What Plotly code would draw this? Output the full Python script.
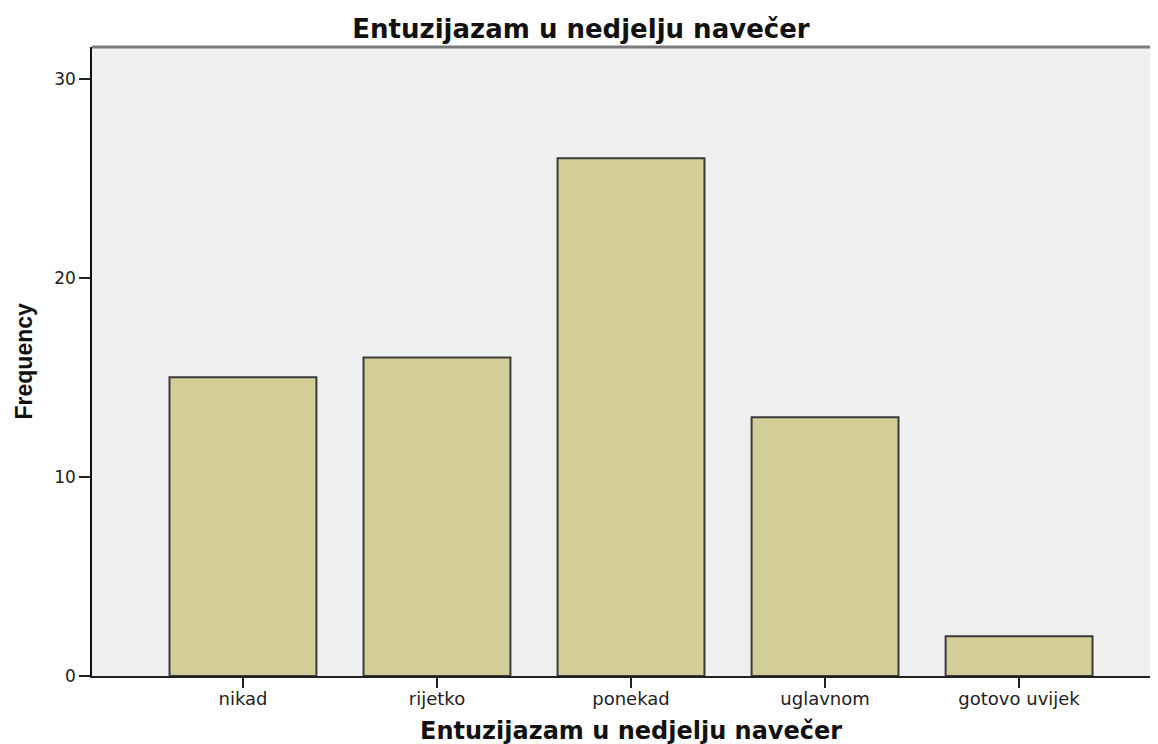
import plotly.graph_objects as go

categories = ["nikad", "rijetko", "ponekad", "uglavnom", "gotovo uvijek"]
frequency = [15, 16, 26, 13, 2]
y_ticks = [0, 10, 20, 30]
title_text = "Entuzijazam u nedjelju navečer"
x_title = "Entuzijazam u nedjelju navečer"
y_title = "Frequency"

# the page body adds an 8px offset; the figure is sized to end at the window edge
OFF = 8
W, H = 1158 - OFF, 744 - OFF
L, T = 92 - OFF, 47 - OFF
B = H - (676 - OFF)

fig = go.Figure()
fig.add_trace(go.Bar(
    x=categories,
    y=frequency,
    width=0.757,
    marker=dict(color="#D3CE98", line=dict(color="#3A3A3A", width=2)),
    hoverinfo="x+y",
))

fig.update_layout(
    width=W, height=H,
    margin=dict(l=L, r=0, t=T, b=B, pad=0),
    paper_bgcolor="white",
    plot_bgcolor="#EFEFEF",
    showlegend=False,
    title=dict(
        text=title_text,
        font=dict(family="DejaVu Sans", size=26, color="#111111", weight="bold"),
        x=(581 - OFF) / W, xref="container", xanchor="center",
        y=1 - (29 - OFF) / H, yref="container", yanchor="middle",
    ),
    xaxis=dict(
        type="category",
        range=[-0.778, 4.716],
        showgrid=False,
        showline=True, linecolor="#222222", linewidth=1.5,
        ticks="outside", ticklen=10, tickwidth=1.5, tickcolor="#222222",
        ticklabelstandoff=-4,
        tickfont=dict(family="DejaVu Sans", size=18, color="#222222"),
        zeroline=False,
    ),
    yaxis=dict(
        range=[0, 31.59],
        tickvals=y_ticks,
        showgrid=False,
        showline=True, linecolor="#111111", linewidth=1.5,
        ticks="outside", ticklen=11, tickwidth=1.5, tickcolor="#222222",
        tickfont=dict(family="DejaVu Sans", size=17, color="#222222"),
        zeroline=False,
    ),
)

plot_w = W - L
plot_h = H - T - B

# top border of the plot frame
fig.add_shape(type="line", xref="paper", yref="paper", x0=0, x1=1, y0=1, y1=1,
              line=dict(color="#7A7A7A", width=3))

# x-axis title, centred on the middle category
fig.add_annotation(
    text=x_title, xref="x", x=2, yref="paper", y=-(707 - (H - B)) / plot_h,
    xanchor="center", yanchor="top", showarrow=False,
    font=dict(family="DejaVu Sans", size=24, color="#111111", weight="bold"),
)
# y-axis title
fig.add_annotation(
    text=y_title, xref="paper", x=(15 - L) / plot_w, yref="paper", y=0.5,
    xanchor="center", yanchor="middle", textangle=-90, showarrow=False,
    font=dict(family="Liberation Sans", size=23, color="#111111", weight="bold"),
)

fig.write_html("out.html")
